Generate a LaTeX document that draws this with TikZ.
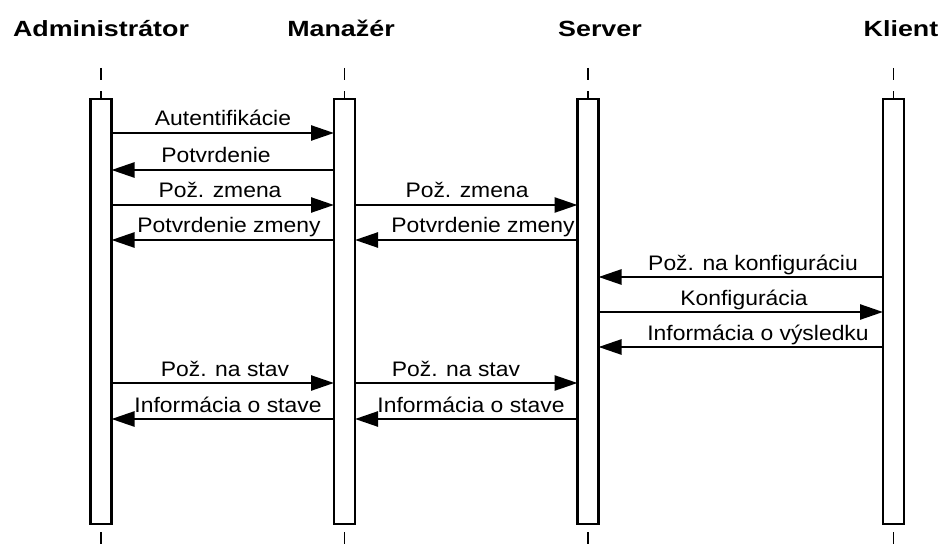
\documentclass[tikz,border=0pt]{standalone}
\usepackage{fontspec}
\setmainfont{Liberation Sans}
\newfontfamily\lblfont[FakeStretch=1.09]{Liberation Sans}
\newfontfamily\hdrfont[FakeStretch=1.22]{Liberation Sans}
\usetikzlibrary{arrows.meta}

\begin{document}
\begin{tikzpicture}[x=1pt,y=-1pt,
  hdr/.style={anchor=base,inner sep=0pt,font=\hdrfont\bfseries\fontsize{22}{26}\selectfont},
  lbl/.style={anchor=base,inner sep=0pt,font=\lblfont\fontsize{21}{25}\selectfont},
  actbox/.style={draw,fill=white,line width=2.6pt,minimum width=21pt,minimum height=425pt,
                 inner sep=0pt,outer sep=0pt,anchor=north},
  life/.style={line width=1.4pt,dash pattern=on 12pt off 11.2pt},
  msg/.style={line width=2.5pt,-{Triangle[length=23pt,width=15pt]}}]

\useasboundingbox (0,0) rectangle (942,556);

% participants
\node[hdr] (hA) at (101,37) {Administrátor};
\node[hdr] (hM) at (341,37) {Manažér};
\node[hdr] (hS) at (600,37) {Server};
\node[hdr] (hK) at (901,37) {Klient};

% lifelines
\foreach \n/\x in {A/101,M/344.5,S/588,K/893.5}{
  \coordinate (\n top) at (\x,68);
  \coordinate (\n bot) at (\x,544);
  \draw[life] (\n top) -- (\n bot);
}

% activation boxes
\node[actbox] (A) at (101,99) {};
\node[actbox] (M) at (344.5,99) {};
\node[actbox] (S) at (588,99) {};
\node[actbox] (K) at (893.5,99) {};

% messages
\draw[msg] (A.east |- 0,133) -- (M.west |- 0,133);
\node[lbl] (m1) at (223,126) {Autentifikácie};

\draw[msg] (M.west |- 0,170) -- (A.east |- 0,170);
\node[lbl] (m2) at (216,163) {Potvrdenie};

\draw[msg] (A.east |- 0,205) -- (M.west |- 0,205);
\node[lbl] (m3) at (220,198) {Pož. zmena};

\draw[msg] (M.east |- 0,205) -- (S.west |- 0,205);
\node[lbl] (m4) at (467,198) {Pož. zmena};

\draw[msg] (M.west |- 0,240) -- (A.east |- 0,240);
\node[lbl] (m5) at (229,233) {Potvrdenie zmeny};

\draw[msg] (S.west |- 0,240) -- (M.east |- 0,240);
\node[lbl] (m6) at (483,233) {Potvrdenie zmeny};

\draw[msg] (K.west |- 0,277) -- (S.east |- 0,277);
\node[lbl] (m7) at (753,270) {Pož. na konfiguráciu};

\draw[msg] (S.east |- 0,312) -- (K.west |- 0,312);
\node[lbl] (m8) at (744,305) {Konfigurácia};

\draw[msg] (K.west |- 0,347) -- (S.east |- 0,347);
\node[lbl] (m9) at (758,340) {Informácia o výsledku};

\draw[msg] (A.east |- 0,383) -- (M.west |- 0,383);
\node[lbl] (m10) at (225,376) {Pož. na stav};

\draw[msg] (M.east |- 0,383) -- (S.west |- 0,383);
\node[lbl] (m11) at (456,376) {Pož. na stav};

\draw[msg] (M.west |- 0,419) -- (A.east |- 0,419);
\node[lbl] (m12) at (228,412) {Informácia o stave};

\draw[msg] (S.west |- 0,419) -- (M.east |- 0,419);
\node[lbl] (m13) at (471,412) {Informácia o stave};
\end{tikzpicture}
\end{document}
